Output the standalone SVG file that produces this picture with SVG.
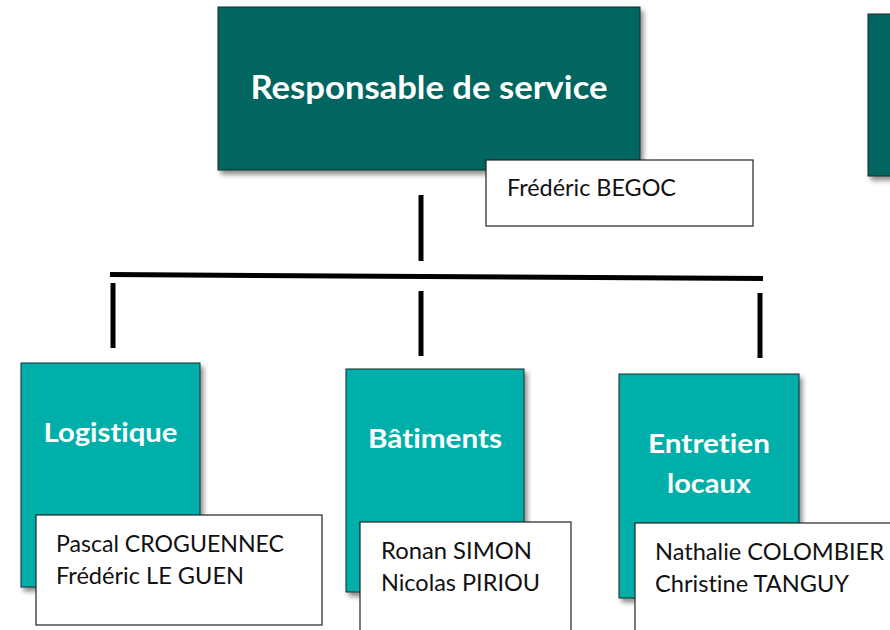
<svg xmlns="http://www.w3.org/2000/svg" width="890" height="630" viewBox="0 0 890 630">
<style>
.dark{fill:#01665F;stroke:#1a2a28;stroke-width:1}
.light{fill:#03AFA9;stroke:#1a2a28;stroke-width:1}
.card{fill:#ffffff;stroke:#222222;stroke-width:1.2}
.title{font-family:Lato,"Liberation Sans",sans-serif;font-weight:bold;fill:#ffffff;font-variant-ligatures:none}
.name{font-family:Lato,"Liberation Sans",sans-serif;font-size:23px;fill:#111111;font-variant-ligatures:none}
.conn{stroke:#000000;stroke-width:5;fill:none}
</style>
<defs>
<filter id="sh" x="-10%" y="-10%" width="130%" height="130%">
<feDropShadow dx="3" dy="4" stdDeviation="2.5" flood-color="#000000" flood-opacity="0.45"/>
</filter>
</defs>
<rect width="890" height="630" fill="#ffffff"/>
<g id="connectors">
<line class="conn" x1="421" y1="195" x2="421" y2="261"/>
<line class="conn" x1="110" y1="274.5" x2="763" y2="278.5" stroke-width="6"/>
<line class="conn" x1="113" y1="283" x2="113" y2="348"/>
<line class="conn" x1="421" y1="291" x2="421" y2="356"/>
<line class="conn" x1="760" y1="293" x2="760" y2="358"/>
</g>
<g id="node-right">
<rect class="dark" x="868" y="14" width="40" height="162" filter="url(#sh)"/>
</g>
<g id="node-responsable">
<rect class="dark" x="218" y="7" width="422" height="163" filter="url(#sh)"/>
<text class="title" x="429" y="99" font-size="32" text-anchor="middle" textLength="357" lengthAdjust="spacingAndGlyphs">Responsable de service</text>
<rect class="card" x="486" y="160" width="267" height="66"/>
<text class="name" x="507" y="196" textLength="169" lengthAdjust="spacingAndGlyphs">Frédéric BEGOC</text>
</g>
<g id="node-logistique">
<rect class="light" x="21" y="363" width="179" height="224" filter="url(#sh)"/>
<text class="title" x="110.5" y="442" font-size="26" text-anchor="middle" textLength="134" lengthAdjust="spacingAndGlyphs">Logistique</text>
<rect class="card" x="36" y="515" width="286" height="110"/>
<text class="name" x="56" y="552" textLength="228" lengthAdjust="spacingAndGlyphs">Pascal CROGUENNEC</text>
<text class="name" x="56" y="584" textLength="188" lengthAdjust="spacingAndGlyphs">Frédéric LE GUEN</text>
</g>
<g id="node-batiments">
<rect class="light" x="346" y="369" width="178" height="223" filter="url(#sh)"/>
<text class="title" x="435" y="448" font-size="26" text-anchor="middle" textLength="134" lengthAdjust="spacingAndGlyphs">Bâtiments</text>
<rect class="card" x="360" y="522" width="211" height="120"/>
<text class="name" x="381" y="559" textLength="151" lengthAdjust="spacingAndGlyphs">Ronan SIMON</text>
<text class="name" x="381" y="591" textLength="159" lengthAdjust="spacingAndGlyphs">Nicolas PIRIOU</text>
</g>
<g id="node-entretien">
<rect class="light" x="619" y="374" width="180" height="224" filter="url(#sh)"/>
<text class="title" x="709" y="453" font-size="26" text-anchor="middle" textLength="122" lengthAdjust="spacingAndGlyphs">Entretien</text>
<text class="title" x="709" y="493" font-size="26" text-anchor="middle" textLength="84" lengthAdjust="spacingAndGlyphs">locaux</text>
<rect class="card" x="635" y="523" width="280" height="120"/>
<text class="name" x="655" y="560" textLength="229" lengthAdjust="spacingAndGlyphs">Nathalie COLOMBIER</text>
<text class="name" x="655" y="592" textLength="194" lengthAdjust="spacingAndGlyphs">Christine TANGUY</text>
</g>
</svg>
